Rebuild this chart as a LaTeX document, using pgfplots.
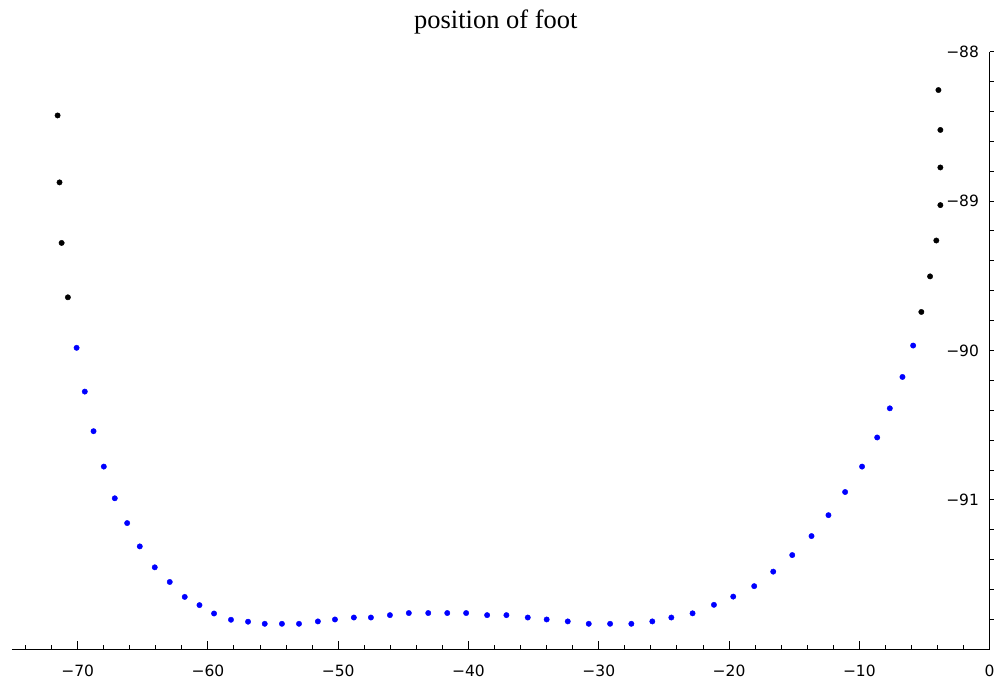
\documentclass[border=0pt]{standalone}
\usepackage{fontspec}
\setmainfont{Liberation Serif}
\newfontfamily\tickfont{DejaVu Sans}
\usepackage{pgfplots}
\pgfplotsset{compat=1.18}
\begin{document}
\begin{tikzpicture}
\useasboundingbox (-12pt,-31pt) rectangle (983pt,650pt);
\begin{axis}[name=main, at={(0pt,0pt)}, anchor=south west,
 scale only axis, width=978.6pt, height=598.3pt,
 xmin=-75.04, xmax=0, ymin=-92, ymax=-88,
 axis x line=bottom, axis y line=right, ytick=\empty,
 axis line style={-, line width=1.2pt, black},
 tick align=inside,
 xtick={-70,-60,-50,-40,-30,-20,-10,0},
 xticklabels={−70,−60,−50,−40,−30,−20,−10,0},
 minor xtick={-74,-72,-68,-66,-64,-62,-58,-56,-54,-52,-48,-46,-44,-42,-38,-36,-34,-32,-28,-26,-24,-22,-18,-16,-14,-12,-8,-6,-4,-2},
 major tick length=8pt, minor tick length=4pt,
 tick style={black, line width=1pt},
 xticklabel style={font=\tickfont\fontsize{15.5}{18}\selectfont, anchor=base, inner sep=0pt, yshift=-27pt},
 title={position of foot},
 title style={font=\fontsize{26.5}{30}\selectfont, at={(0.5,1)}, anchor=base, yshift=17pt, xshift=-5pt},
 clip marker paths=true]
\addplot[only marks, mark=*, mark size=2.7pt, color=black, mark options={draw=none, fill=black}] coordinates {
(-71.54,-88.427) (-71.39,-88.875) (-71.23,-89.28) (-70.75,-89.644)
(-5.24,-89.742) (-4.57,-89.504) (-4.09,-89.264) (-3.78,-89.027)
(-3.78,-88.775) (-3.78,-88.524) (-3.93,-88.257) (-4.44,-87.992)
};
\addplot[only marks, mark=*, mark size=2.7pt, color=blue, mark options={draw=none, fill=blue}] coordinates {
(-70.08,-89.982) (-69.45,-90.275) (-68.78,-90.54) (-67.99,-90.777)
(-67.15,-90.989) (-66.20,-91.155) (-65.23,-91.311) (-64.08,-91.451)
(-62.93,-91.549) (-61.78,-91.649) (-60.65,-91.704) (-59.53,-91.76)
(-58.23,-91.802) (-56.92,-91.815) (-55.64,-91.829) (-54.32,-91.829)
(-53.01,-91.829) (-51.56,-91.813) (-50.25,-91.80) (-48.80,-91.787)
(-47.49,-91.787) (-46.03,-91.771) (-44.58,-91.757) (-43.09,-91.757)
(-41.63,-91.757) (-40.18,-91.757) (-38.57,-91.771) (-37.09,-91.771)
(-35.45,-91.787) (-34.00,-91.80) (-32.38,-91.813) (-30.77,-91.829)
(-29.13,-91.829) (-27.50,-91.829) (-25.89,-91.813) (-24.43,-91.787)
(-22.80,-91.759) (-21.16,-91.702) (-19.68,-91.647) (-18.07,-91.577)
(-16.61,-91.48) (-15.15,-91.369) (-13.67,-91.242) (-12.37,-91.102)
(-11.09,-90.947) (-9.79,-90.777) (-8.63,-90.582) (-7.66,-90.387)
(-6.69,-90.177) (-5.87,-89.967)
};
\end{axis}
\begin{axis}[at={(main.south east)}, anchor=south west,
 scale only axis, width=3pt, height=598.3pt,
 xmin=0, xmax=1, ymin=-92, ymax=-88,
 axis x line=none, axis y line=left,
 axis line style={-, line width=1.2pt, black},
 tick align=inside,
 ytick={-91,-90,-89,-88},
 yticklabels={−91,−90,−89,−88},
 minor ytick={-91.8,-91.6,-91.4,-91.2,-90.8,-90.6,-90.4,-90.2,-89.8,-89.6,-89.4,-89.2,-88.8,-88.6,-88.4,-88.2},
 major tick length=4pt, minor tick length=4pt,
 tick style={black, line width=1pt},
 yticklabel style={font=\tickfont\fontsize{15.5}{18}\selectfont, anchor=east, inner sep=0pt, xshift=-10.5pt}]
\addplot[draw=none] coordinates {(0.5,-90)};
\end{axis}
\end{tikzpicture}
\end{document}
